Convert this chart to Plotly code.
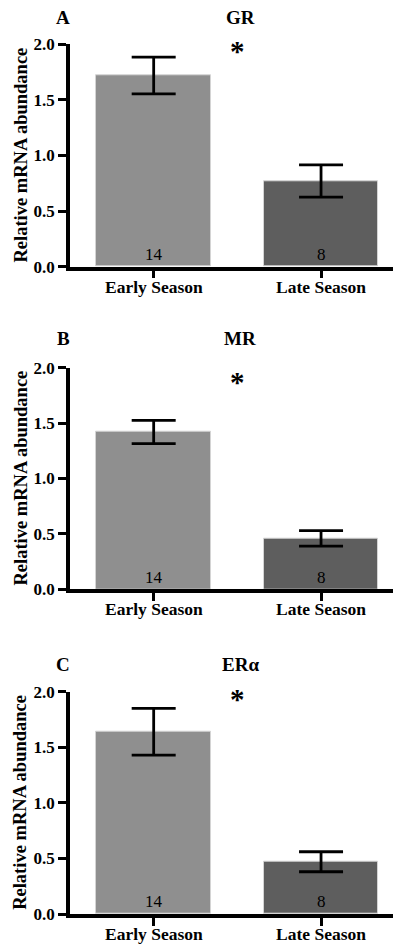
import plotly.graph_objects as go

categories = ["Early Season", "Late Season"]
n_labels = ["14", "8"]
panel_letters = ["A", "B", "C"]
panel_titles = ["GR", "MR", "ERα"]
gr_mean = [1.72, 0.77]
gr_sem = [0.165, 0.145]
mr_mean = [1.42, 0.46]
mr_sem = [0.105, 0.07]
era_mean = [1.64, 0.47]
era_sem = [0.21, 0.09]
star_y = [1.97, 1.90, 1.96]
yticks = [0, 0.5, 1.0, 1.5, 2.0]

means = [gr_mean, mr_mean, era_mean]
sems = [gr_sem, mr_sem, era_sem]
bar_colors = ["#8f8f8f", "#5e5e5e"]

W, H = 396, 945
ML, MR = 70, 3
PW = W - ML - MR
# pixel positions of y=2.0 (top) and y=0 (bottom) for each panel
tops = [44.3, 367.7, 691.7]
bottoms = [266.7, 589.3, 914.0]
label_y = [17, 338, 664]

FONT = "Liberation Serif"
fig = go.Figure()
annotations = []

for i in range(3):
    xa = "x" if i == 0 else f"x{i+1}"
    ya = "y" if i == 0 else f"y{i+1}"
    fig.add_trace(go.Bar(
        x=categories, y=means[i],
        width=0.685,
        marker=dict(color=bar_colors, line=dict(color="#d4d4d4", width=1)),
        error_y=dict(type="data", array=sems[i], visible=True,
                     color="black", thickness=2.8, width=22),
        xaxis=xa, yaxis=ya, showlegend=False,
    ))
    dom = [1 - bottoms[i] / H, 1 - tops[i] / H]
    xkey = "xaxis" if i == 0 else f"xaxis{i+1}"
    ykey = "yaxis" if i == 0 else f"yaxis{i+1}"
    fig.update_layout(**{
        xkey: dict(domain=[0, 1], anchor=ya, range=[-0.5, 1.43], automargin=False,
                   showline=True, linewidth=3.5, linecolor="black",
                   ticks="outside", ticklen=8, tickwidth=2.5, tickcolor="black",
                   showgrid=False, zeroline=False, showticklabels=False),
        ykey: dict(domain=dom, anchor=xa, range=[0, 2.0], automargin=False,
                   tickvals=yticks, tickformat=".1f",
                   showline=True, linewidth=3.5, linecolor="black",
                   ticks="outside", ticklen=8, tickwidth=2.5, tickcolor="black",
                   showgrid=False, zeroline=False,
                   tickfont=dict(family=FONT, size=17, color="black", weight="bold")),
    })
    for c, nl in zip(categories, n_labels):
        # n labels in bars
        annotations.append(dict(x=c, y=0.11, xref=xa, yref=ya, text=nl,
                                showarrow=False, yanchor="middle",
                                font=dict(family=FONT, size=17, color="black")))
        # category labels under the axis
        annotations.append(dict(x=c, y=0, xref=xa, yref=ya, text=f"<b>{c}</b>",
                                showarrow=False, yanchor="middle", yshift=-20,
                                font=dict(family=FONT, size=17.5, color="black")))
    # significance star
    annotations.append(dict(x=0.5, y=star_y[i], xref=xa, yref=ya, text="<b>*</b>",
                            showarrow=False, yanchor="middle", yshift=-3,
                            font=dict(family=FONT, size=29, color="black")))
    # panel letter and title
    annotations.append(dict(x=(63 - ML) / PW, y=1 - label_y[i] / H, xref="paper", yref="paper",
                            text=f"<b>{panel_letters[i]}</b>", showarrow=False,
                            xanchor="center", yanchor="middle",
                            font=dict(family=FONT, size=19, color="black")))
    annotations.append(dict(x=(240 - ML) / PW, y=1 - label_y[i] / H, xref="paper", yref="paper",
                            text=f"<b>{panel_titles[i]}</b>", showarrow=False,
                            xanchor="center", yanchor="middle",
                            font=dict(family=FONT, size=19, color="black")))
    # y-axis title
    annotations.append(dict(x=(20 - ML) / PW, y=1 - (tops[i] + bottoms[i]) / 2 / H,
                            xref="paper", yref="paper", textangle=-90,
                            text="<b>Relative mRNA abundance</b>", showarrow=False,
                            xanchor="center", yanchor="middle",
                            font=dict(family=FONT, size=18.5, color="black")))

fig.update_layout(
    width=W, height=H,
    margin=dict(l=ML, r=MR, t=0, b=0),
    paper_bgcolor="white", plot_bgcolor="white",
    annotations=annotations,
    bargap=0,
)

fig.write_html("out.html")
